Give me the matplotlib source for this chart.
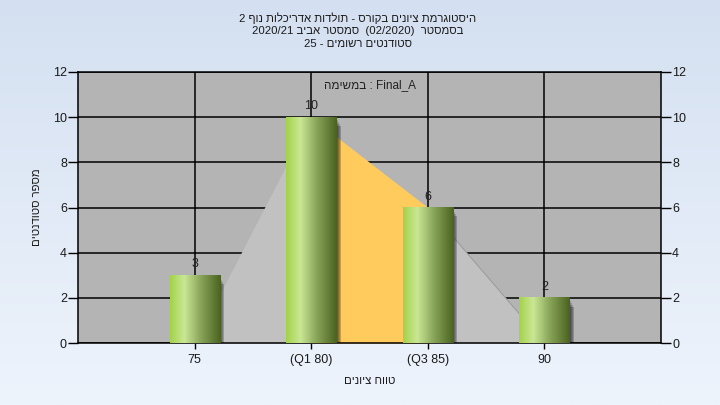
import re
import numpy as np
import matplotlib
matplotlib.use('Agg')
import matplotlib.pyplot as plt
from matplotlib.colors import LinearSegmentedColormap
from matplotlib.patches import Rectangle

plt.rcParams['font.family'] = ['Liberation Sans', 'DejaVu Sans']

# data
categories = ['75', '(Q1 80)', '(Q3 85)', '90']
counts = [3, 10, 6, 2]
area_vals = [0, 10, 6, 0]   # shaded background shape (quartile band in orange)

title_lines = ['היסטוגרמת ציונים בקורס - תולדות אדריכלות נוף 2',
               'בסמסטר  (02/2020)  סמסטר אביב 2020/21',
               'סטודנטים רשומים - 25']
task_name = 'Final_A'
task_word = 'במשימה'
x_label = 'טווח ציונים'
y_label = 'מספר סטודנטים'


# matplotlib has no bidi support, so put right-to-left text into visual order
def rtl(s):
    tokens = re.findall(r'[\u0590-\u05ff]+|[0-9A-Za-z_/.]+|.', s)
    out = []
    for t in reversed(tokens):
        if re.match(r'[\u0590-\u05ff]', t):
            out.append(t[::-1])
        elif t == '(':
            out.append(')')
        elif t == ')':
            out.append('(')
        else:
            out.append(t)
    return ''.join(out)


fig = plt.figure(figsize=(7.2, 4.05), dpi=100)

# page background gradient
bg = fig.add_axes([0, 0, 1, 1], zorder=-10)
grad = np.linspace(0, 1, 256).reshape(-1, 1)
bg_cmap = LinearSegmentedColormap.from_list('bg', ['#d4e0f1', '#eef4fc'])
bg.imshow(grad, aspect='auto', cmap=bg_cmap, extent=[0, 1, 0, 1], origin='upper')
bg.axis('off')

ax = fig.add_axes([78 / 720, 1 - 343 / 405, (661 - 78) / 720, (343 - 72) / 405])
ax.set_facecolor('#b4b4b4')
x = np.arange(len(categories))

# grid
ax.set_yticks(np.arange(0, 13, 2))
ax.set_xticks(x)
ax.set_xticklabels(categories)
ax.grid(True, color='black', linewidth=1.1, zorder=0)
ax.set_axisbelow(True)

# background area shape
xa = np.arange(len(area_vals))
ax.fill_between(xa[0:2], area_vals[0:2], color='#c1c1c1', zorder=1, linewidth=0)
ax.fill_between(xa[1:3], area_vals[1:3], color='#ffcb5c', zorder=1, linewidth=0)
ax.fill_between(xa[2:4], area_vals[2:4], color='#c1c1c1', zorder=1, linewidth=0)
ax.plot(xa[2:4], area_vals[2:4], color='#9a9a9a', linewidth=0.7, zorder=1)

# bars with cylinder-like gradient and a soft shadow
bar_w = 0.43
bar_cmap = LinearSegmentedColormap.from_list(
    'bar', [(0, '#a3d24a'), (0.28, '#cae795'), (0.6, '#8aa65a'), (1, '#4a6220')])
hgrad = np.linspace(0, 1, 128).reshape(1, -1)
for xi, v in zip(x, counts):
    for k, a in enumerate([0.16, 0.16, 0.18, 0.22]):
        off = 0.012 + 0.009 * k
        ax.add_patch(Rectangle((xi - bar_w / 2 + off, 0), bar_w, v - off * 10,
                               color='black', alpha=a, linewidth=0, zorder=2))
    ax.imshow(hgrad, aspect='auto', cmap=bar_cmap, zorder=3,
              extent=[xi - bar_w / 2, xi + bar_w / 2, 0, v])
    ax.text(xi, v + 0.22, str(v), ha='center', va='bottom', fontsize=9, color='#222222', zorder=4)
ax.set_xlim(-1, 4)
ax.set_ylim(0, 12)

ax.text(0.5, 0.952, rtl(task_word) + ' : ' + task_name,
        transform=ax.transAxes, ha='center', va='center', fontsize=8.5, color='#222222')

for s in ax.spines.values():
    s.set_color('black')
    s.set_linewidth(1.1)
ax.tick_params(axis='y', length=7, width=1, labelsize=9, colors='black', labelcolor='#1a1a1a', pad=1)
ax.tick_params(axis='x', length=4, width=1, labelsize=9, labelcolor='#1a1a1a', pad=4)

ax2 = ax.twinx()
ax2.set_ylim(0, 12)
ax2.set_yticks(np.arange(0, 13, 2))
ax2.tick_params(axis='y', length=7, width=1, labelsize=9, labelcolor='#1a1a1a', pad=1)
for s in ax2.spines.values():
    s.set_visible(False)

ax.set_xlabel(rtl(x_label), fontsize=8.2, labelpad=7, color='#1a1a1a')
ax.set_ylabel(rtl(y_label), fontsize=8.2, labelpad=8, color='#1a1a1a')

for i, line in enumerate(title_lines):
    fig.text(358 / 720, 1 - (18 + 13 * i) / 405, rtl(line), ha='center', va='center',
             fontsize=8.2, color='#1a1a1a')

fig.savefig('out.png', dpi=100)
